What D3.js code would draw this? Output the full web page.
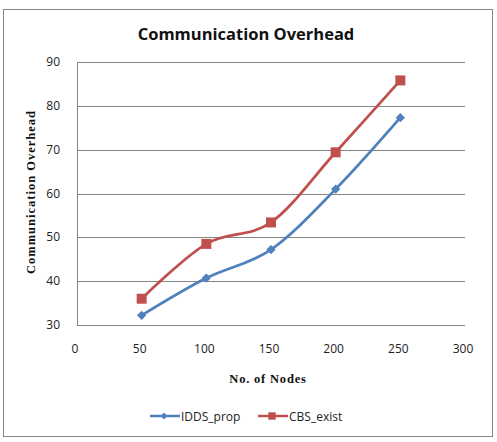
<!DOCTYPE html>
<html>
<head>
<meta charset="utf-8">
<script src="https://cdn.jsdelivr.net/npm/d3@7"></script>
<style>
  body { margin: 0; background: #fff; }
  text { font-family: "Open Sans", "Liberation Sans", sans-serif; }
</style>
</head>
<body>
<svg id="chart" width="497" height="442"></svg>
<script>
const nodes = [50, 100, 150, 200, 250];
const iddsProp = [32.2, 40.7, 47.2, 61, 77.3];
const cbsExist = [36, 48.5, 53.4, 69.4, 85.8];
const xTicks = [0, 50, 100, 150, 200, 250, 300];
const yTicks = [30, 40, 50, 60, 70, 80, 90];

const svg = d3.select("#chart");

// outer chart border
svg.append("rect")
    .attr("x", 3.5).attr("y", 9.5)
    .attr("width", 489).attr("height", 427)
    .attr("fill", "#fff")
    .attr("stroke", "#868686");

const plot = {left: 77, right: 465, top: 62, bottom: 325};

const x = d3.scaleLinear().domain([0, 300]).range([plot.left, plot.right]);
const y = d3.scaleLinear().domain([30, 90]).range([plot.bottom, plot.top]);

// horizontal gridlines
svg.append("g")
    .selectAll("line")
    .data(yTicks)
    .join("line")
    .attr("x1", plot.left).attr("x2", plot.right)
    .attr("y1", d => Math.round(y(d)) + 0.5)
    .attr("y2", d => Math.round(y(d)) + 0.5)
    .attr("stroke", "#868686");

// left axis line
svg.append("line")
    .attr("x1", plot.left + 0.5).attr("x2", plot.left + 0.5)
    .attr("y1", plot.top).attr("y2", plot.bottom)
    .attr("stroke", "#868686");

// y tick labels
svg.append("g")
    .selectAll("text")
    .data(yTicks)
    .join("text")
    .attr("x", plot.left - 17)
    .attr("y", d => y(d) + 4)
    .attr("text-anchor", "end")
    .attr("font-size", 12)
    .attr("fill", "#222")
    .text(d => d);

// x tick labels
svg.append("g")
    .selectAll("text")
    .data(xTicks)
    .join("text")
    .attr("x", d => x(d) - 2)
    .attr("y", 353)
    .attr("text-anchor", "middle")
    .attr("font-size", 12)
    .attr("fill", "#222")
    .text(d => d);

// titles
svg.append("text")
    .attr("x", 246).attr("y", 40)
    .attr("text-anchor", "middle")
    .attr("font-size", 16.5)
    .attr("font-weight", "bold")
    .attr("fill", "#111")
    .text("Communication Overhead");

svg.append("text")
    .attr("x", 268).attr("y", 383)
    .attr("text-anchor", "middle")
    .attr("font-size", 12.5)
    .attr("font-weight", "bold")
    .attr("letter-spacing", 0.8)
    .style("font-family", "'Liberation Serif', serif")
    .attr("fill", "#111")
    .text("No. of Nodes");

svg.append("text")
    .attr("transform", "translate(35,192) rotate(-90)")
    .attr("text-anchor", "middle")
    .attr("font-size", 12.5)
    .attr("font-weight", "bold")
    .attr("letter-spacing", 1)
    .style("font-family", "'Liberation Serif', serif")
    .attr("fill", "#111")
    .text("Communication Overhead");

const series = [
    {name: "IDDS_prop", values: iddsProp, color: "#4F81BD", symbol: d3.symbolDiamond2, size: 55, legendSize: 30},
    {name: "CBS_exist", values: cbsExist, color: "#C0504D", symbol: d3.symbolSquare, size: 100, legendSize: 55}
];

const line = d3.line()
    .x(d => x(d[0]))
    .y(d => y(d[1]))
    .curve(d3.curveCardinal);

series.forEach(s => {
    const pts = nodes.map((n, i) => [n, s.values[i]]);
    svg.append("path")
        .attr("d", line(pts))
        .attr("fill", "none")
        .attr("stroke", s.color)
        .attr("stroke-width", 2.75);
    svg.append("g")
        .selectAll("path")
        .data(pts)
        .join("path")
        .attr("transform", d => `translate(${x(d[0])},${y(d[1])})`)
        .attr("d", d3.symbol().type(s.symbol).size(s.size))
        .attr("fill", s.color);
});

// legend
const legendX = [150, 258];
series.forEach((s, i) => {
    const g = svg.append("g").attr("transform", `translate(${legendX[i]},416)`);
    g.append("line")
        .attr("x1", 0).attr("x2", 30)
        .attr("stroke", s.color)
        .attr("stroke-width", 2.5);
    g.append("path")
        .attr("transform", "translate(14,0)")
        .attr("d", d3.symbol().type(s.symbol).size(s.legendSize))
        .attr("fill", s.color);
    g.append("text")
        .attr("x", 31).attr("y", 4.5)
        .attr("font-size", 12)
        .attr("fill", "#222")
        .text(s.name);
});
</script>
</body>
</html>
